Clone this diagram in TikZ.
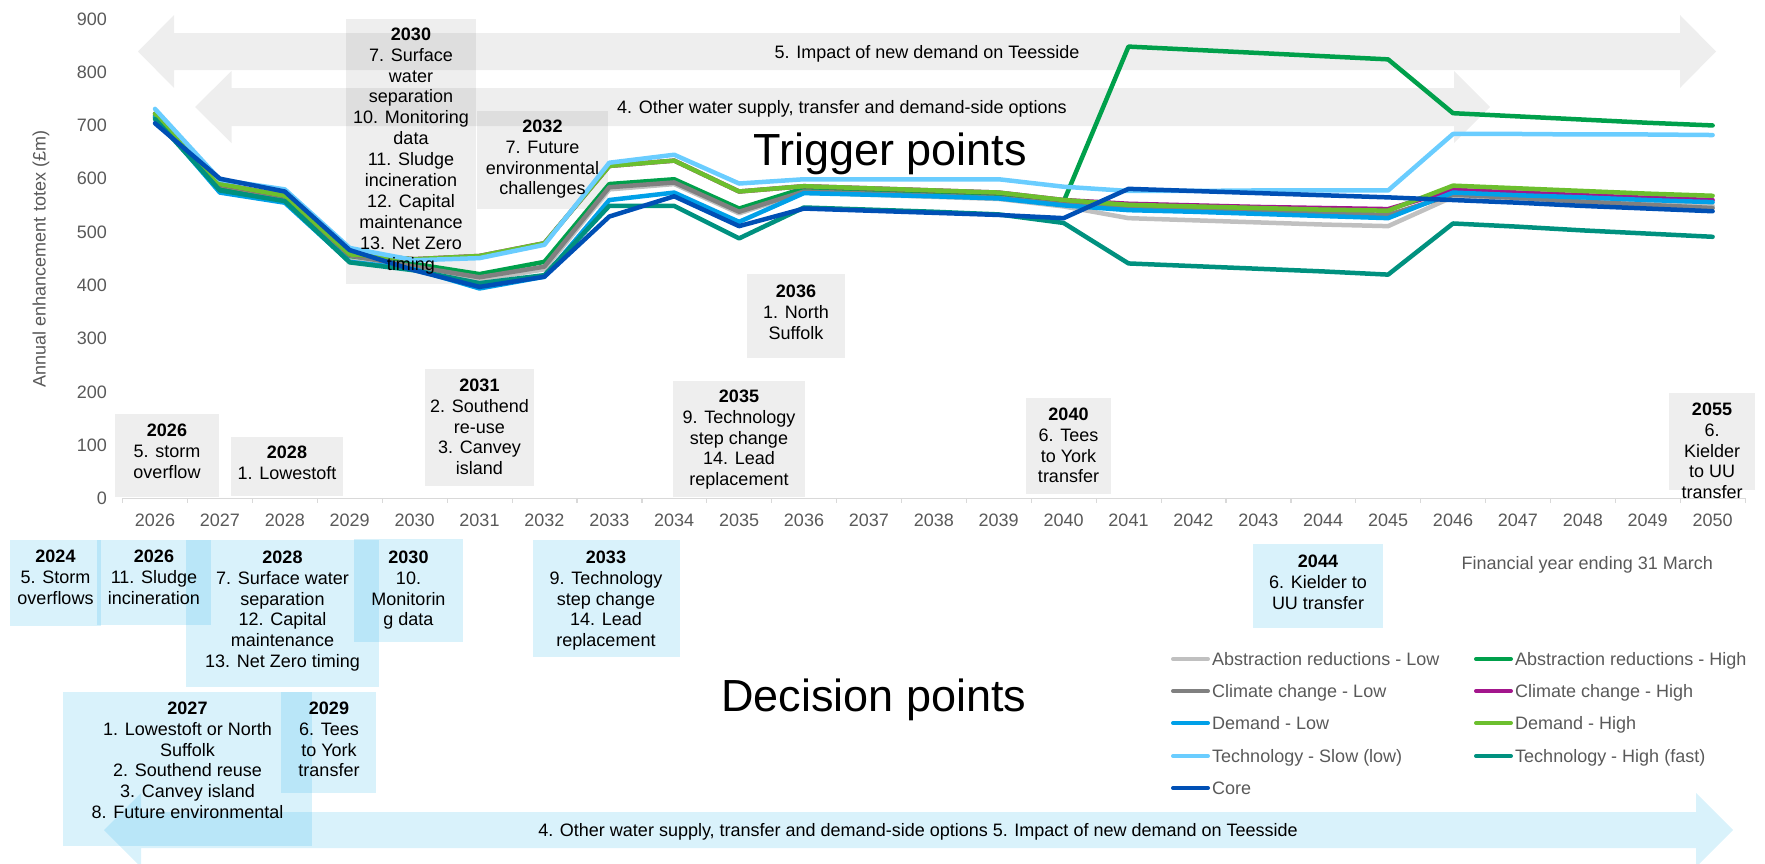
\documentclass[tikz,border=0pt]{standalone}
\usepackage{fontspec}
\setmainfont{Liberation Sans}
\definecolor{axisgray}{HTML}{595959}
\definecolor{tickgray}{HTML}{D9D9D9}
\definecolor{boxblue}{RGB}{0,165,230}
\definecolor{cARlow}{HTML}{C0C0C0}
\definecolor{cARhigh}{HTML}{00A04B}
\definecolor{cCClow}{HTML}{808080}
\definecolor{cCChigh}{HTML}{A3168C}
\definecolor{cDlow}{HTML}{00A0E8}
\definecolor{cDhigh}{HTML}{6CBF2E}
\definecolor{cTslow}{HTML}{6ACDFF}
\definecolor{cThigh}{HTML}{00917F}
\definecolor{cCore}{HTML}{0050B5}
\tikzset{
  garrow/.style={fill=black, fill opacity=0.065},
  barrow/.style={fill=boxblue, fill opacity=0.15},
  tbox/.style={fill=black, fill opacity=0.065},
  dbox/.style={fill=boxblue, fill opacity=0.15},
  btext/.style={anchor=north, align=center, inner sep=0pt, text=black,
    font=\fontsize{18}{20.9}\selectfont, execute at begin node={\rule{0pt}{14pt}}},
  atext/.style={anchor=base, inner sep=0pt, text=black, font=\fontsize{18}{20}\selectfont},
  big/.style={anchor=base, inner sep=0pt, text=black, font=\fontsize{45}{50}\selectfont},
  axlabel/.style={inner sep=0pt, text=axisgray, font=\fontsize{18}{20}\selectfont},
  series/.style={line width=4.5pt, line join=round, line cap=round},
  legline/.style={line width=4pt, line cap=round},
  legtext/.style={anchor=base west, inner sep=0pt, text=axisgray, font=\fontsize{18}{20}\selectfont},
}
\begin{document}
\begin{tikzpicture}[x=1pt,y=-1pt]
\useasboundingbox (0,0) rectangle (1765,863);
% ---------- trigger arrows ----------
\fill[garrow] (138,51.5) -- (174,15) -- (174,33) -- (1680,33) -- (1680,15) -- (1716,51.5) -- (1680,88) -- (1680,70) -- (174,70) -- (174,88) -- cycle;
\fill[garrow] (195,107) -- (231.5,71) -- (231.5,88) -- (1454,88) -- (1454,71) -- (1490,107) -- (1454,143) -- (1454,126) -- (231.5,126) -- (231.5,143) -- cycle;
% ---------- trigger boxes ----------
\fill[tbox] (115,414) rectangle (219,497);
\fill[tbox] (231,437) rectangle (343,496);
\fill[tbox] (346,19) rectangle (476,284);
\fill[tbox] (425,369) rectangle (534,486);
\fill[tbox] (477,111) rectangle (608,209);
\fill[tbox] (673,381) rectangle (805,497);
\fill[tbox] (747,274) rectangle (845,358);
\fill[tbox] (1026,398) rectangle (1111,494);
\fill[tbox] (1669,393) rectangle (1755,490);
% ---------- decision boxes ----------
\fill[dbox] (10,540) rectangle (101,626);
\fill[dbox] (97,540) rectangle (211,625);
\fill[dbox] (186,540) rectangle (379,687);
\fill[dbox] (354,539) rectangle (463,642);
\fill[dbox] (533,540) rectangle (680,657);
\fill[dbox] (63,692) rectangle (312,846);
\fill[dbox] (281,692) rectangle (376,793);
\fill[dbox] (1253,544) rectangle (1383,628);
% ---------- decision arrow ----------
\fill[barrow] (104,830) -- (141,793) -- (141,812) -- (1696,812) -- (1696,793) -- (1733,830) -- (1696,867) -- (1696,848) -- (141,848) -- (141,867) -- cycle;
% ---------- axes ----------
\draw[tickgray, line width=1.5pt] (122.7,498.4) -- (1745,498.4);
\foreach \k in {0,...,25} \draw[tickgray, line width=1.2pt] ({122.7+\k*64.9},498.4) -- ++(0,5);
\foreach \i in {0,...,24} {
  \pgfmathtruncatemacro{\yr}{2026+\i}
  \node[axlabel, anchor=base] (x\yr) at ({155+\i*64.9},526.5) {\yr};
}
\foreach \v in {0,100,...,900}
  \node[axlabel, anchor=east] (y\v) at (107,{498.4-0.5328*\v}) {\v};
\node[axlabel, rotate=90] (ytitle) at (41,259) {Annual enhancement totex (£m)};
% ---------- data series ----------
\begin{scope}[shift={(155,498.4)}, x=64.9pt, y=0.5328pt]
\draw[series, cARlow] plot coordinates {(0,715) (1,585) (2,560) (3,450) (4,432) (5,410) (6,430) (7,580) (8,590) (9,535) (10,574) (11,570) (12,566) (13,562) (14,548) (15,526) (16,522) (17,518) (18,514) (19,511) (20,566) (21,562) (22,557) (23,553) (24,549)};
\draw[series, cARhigh] plot coordinates {(0,718) (1,585) (2,563) (3,455) (4,440) (5,421) (6,444) (7,590) (8,599) (9,544) (10,582) (11,578) (12,574) (13,570) (14,557) (15,848) (16,842) (17,836) (18,830) (19,824) (20,723) (21,717) (22,711) (23,705) (24,700)};
\draw[series, cCClow] plot coordinates {(0,715) (1,588) (2,565) (3,456) (4,435) (5,415) (6,435) (7,584) (8,593) (9,538) (10,576) (11,572) (12,568) (13,564) (14,552) (15,545) (16,542) (17,539) (18,536) (19,532) (20,570) (21,564) (22,557) (23,551) (24,545)};
\draw[series, cCChigh] plot coordinates {(0,722) (1,590) (2,568) (3,458) (4,449) (5,455) (6,479) (7,624) (8,634) (9,576) (10,586) (11,582) (12,578) (13,574) (14,560) (15,553) (16,550) (17,547) (18,545) (19,543) (20,579) (21,574) (22,569) (23,564) (24,560)};
\draw[series, cDlow] plot coordinates {(0,716) (1,574) (2,555) (3,444) (4,430) (5,394) (6,416) (7,560) (8,574) (9,519) (10,573) (11,570) (12,567) (13,563) (14,550) (15,541) (16,538) (17,534) (18,530) (19,526) (20,574) (21,569) (22,565) (23,560) (24,556)};
\draw[series, cDhigh] plot coordinates {(0,722) (1,590) (2,568) (3,458) (4,449) (5,455) (6,479) (7,624) (8,634) (9,576) (10,586) (11,582) (12,578) (13,574) (14,560) (15,551) (16,548) (17,545) (18,542) (19,540) (20,587) (21,582) (22,577) (23,572) (24,568)};
\draw[series, cTslow] plot coordinates {(0,731) (1,598) (2,580) (3,470) (4,447) (5,451) (6,476) (7,630) (8,645) (9,591) (10,599) (11,599) (12,599) (13,599) (14,585) (15,577) (16,577) (17,578) (18,578) (19,578) (20,684) (21,684) (22,683) (23,683) (24,682)};
\draw[series, cThigh] plot coordinates {(0,712) (1,578) (2,558) (3,443) (4,428) (5,404) (6,419) (7,549) (8,549) (9,488) (10,546) (11,542) (12,538) (13,533) (14,517) (15,441) (16,436) (17,431) (18,426) (19,420) (20,516) (21,510) (22,503) (23,497) (24,491)};
\draw[series, cCore] plot coordinates {(0,704) (1,600) (2,576) (3,466) (4,428) (5,397) (6,416) (7,529) (8,567) (9,511) (10,544) (11,540) (12,536) (13,532) (14,526) (15,581) (16,577) (17,573) (18,569) (19,565) (20,560) (21,555) (22,549) (23,544) (24,539)};
\end{scope}
% ---------- arrow texts ----------
\node[atext] (a5) at (927,58.5) {5. Impact of new demand on Teesside};
\node[atext] (a4) at (842,113.5) {4. Other water supply, transfer and demand-side options};
\node[atext] (a45) at (918,836.5) {4. Other water supply, transfer and demand-side options 5. Impact of new demand on Teesside};
\node[big] (trig) at (890,165) {Trigger points};
\node[big] (dec) at (874,711) {Decision points};
% ---------- trigger box texts ----------
\node[btext] (t2026) at (167,423.5) {\textbf{2026}\\5. storm\\overflow};
\node[btext] (t2028) at (287,445.5) {\textbf{2028}\\1. Lowestoft};
\node[btext] (t2030) at (411,27.5) {\textbf{2030}\\7. Surface\\water\\separation\\10. Monitoring\\data\\11. Sludge\\incineration\\12. Capital\\maintenance\\13. Net Zero\\timing};
\node[btext] (t2031) at (479.5,378.5) {\textbf{2031}\\2. Southend\\re-use\\3. Canvey\\island};
\node[btext] (t2032) at (542.5,119.5) {\textbf{2032}\\7. Future\\environmental\\challenges};
\node[btext] (t2035) at (739,389.5) {\textbf{2035}\\9. Technology\\step change\\14. Lead\\replacement};
\node[btext] (t2036) at (796,284.5) {\textbf{2036}\\1. North\\Suffolk};
\node[btext] (t2040) at (1068.5,407.5) {\textbf{2040}\\6. Tees\\to York\\transfer};
\node[btext] (t2055) at (1712,402.5) {\textbf{2055}\\6.\\Kielder\\to UU\\transfer};
% ---------- decision box texts ----------
\node[btext] (d2024) at (55.5,549.5) {\textbf{2024}\\5. Storm\\overflows};
\node[btext] (d2026) at (154,549.5) {\textbf{2026}\\11. Sludge\\incineration};
\node[btext] (d2028) at (282.5,550.5) {\textbf{2028}\\7. Surface water\\separation\\12. Capital\\maintenance\\13. Net Zero timing};
\node[btext] (d2030) at (408.5,550.5) {\textbf{2030}\\10.\\Monitorin\\g data};
\node[btext] (d2033) at (606,550.5) {\textbf{2033}\\9. Technology\\step change\\14. Lead\\replacement};
\node[btext] (d2027) at (187.5,701.5) {\textbf{2027}\\1. Lowestoft or North\\Suffolk\\2. Southend reuse\\3. Canvey island\\8. Future environmental};
\node[btext] (d2029) at (329,701.5) {\textbf{2029}\\6. Tees\\to York\\transfer};
\node[btext] (d2044) at (1318,554.5) {\textbf{2044}\\6. Kielder to\\UU transfer};
\node[legtext] (fy) at (1461.5,569.5) {Financial year ending 31 March};
% ---------- legend ----------
\draw[legline, cARlow] (1173,659) -- (1208,659);
\node[legtext] (l1) at (1212,665.5) {Abstraction reductions - Low};
\draw[legline, cCClow] (1173,691) -- (1208,691);
\node[legtext] (l2) at (1212,697.5) {Climate change - Low};
\draw[legline, cDlow] (1173,723) -- (1208,723);
\node[legtext] (l3) at (1212,729.5) {Demand - Low};
\draw[legline, cTslow] (1173,756) -- (1208,756);
\node[legtext] (l4) at (1212,762.5) {Technology - Slow (low)};
\draw[legline, cCore] (1173,788) -- (1208,788);
\node[legtext] (l5) at (1212,794.5) {Core};
\draw[legline, cARhigh] (1476,659) -- (1511,659);
\node[legtext] (r1) at (1515,665.5) {Abstraction reductions - High};
\draw[legline, cCChigh] (1476,691) -- (1511,691);
\node[legtext] (r2) at (1515,697.5) {Climate change - High};
\draw[legline, cDhigh] (1476,723) -- (1511,723);
\node[legtext] (r3) at (1515,729.5) {Demand - High};
\draw[legline, cThigh] (1476,756) -- (1511,756);
\node[legtext] (r4) at (1515,762.5) {Technology - High (fast)};
\end{tikzpicture}
\end{document}
